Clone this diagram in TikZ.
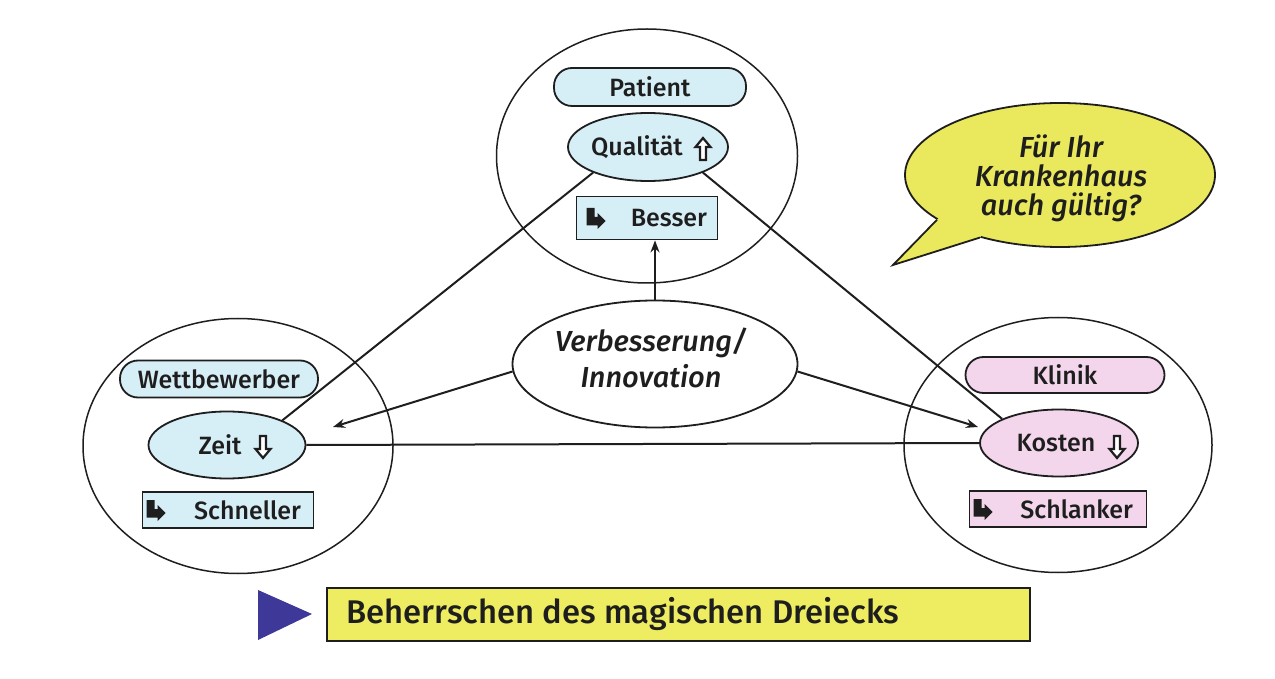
\documentclass[tikz,border=0pt]{standalone}
\usepackage{fontspec}
\IfFontExistsTF{Fira Sans Medium}{%
  \setmainfont{Fira Sans Medium}[ItalicFont={Fira Sans Medium Italic}]%
}{\setmainfont{Fira Sans}}
\usetikzlibrary{shapes.geometric,arrows.meta}
\definecolor{lblue}{RGB}{214,238,246}
\definecolor{lpink}{RGB}{243,214,236}
\definecolor{byellow}{RGB}{234,232,92}
\definecolor{boxyellow}{RGB}{238,236,96}
\definecolor{trib}{RGB}{62,56,152}
\definecolor{inkc}{RGB}{30,30,30}
\tikzset{
  ink/.style={draw=inkc},
  ringshape/.style 2 args={ellipse, ink, line width=0.75pt, minimum width=#1, minimum height=#2, inner sep=0pt},
  ovalshape/.style 2 args={ellipse, ink, line width=0.9pt, minimum width=#1, minimum height=#2, inner sep=0pt},
  pill/.style 2 args={rectangle, rounded corners=9pt, ink, line width=0.9pt, minimum width=#1, minimum height=#2, inner sep=0pt},
  sq/.style 2 args={rectangle, ink, line width=0.9pt, minimum width=#1, minimum height=#2, inner sep=0pt},
  lbl/.style={font=\fontsize{12.5}{14}\selectfont, text=inkc, inner sep=0pt},
  conn/.style={draw=inkc, line width=1pt},
  arrconn/.style={conn, -{Stealth[length=6pt,width=4.5pt]}},
  bentarr/.pic={\fill[inkc] (0,-10) -- (8,-10) -- (8,-1) -- (11,-1) -- (11,-5) -- (19,3) -- (11,11) -- (11,7.5) -- (0,7.5) -- cycle;},
  uparr/.pic={\draw[inkc, line width=1.1pt, line join=miter, fill=white] (0,-11) -- (7.5,-2) -- (3,-2) -- (3,11) -- (-3,11) -- (-3,-2) -- (-7.5,-2) -- cycle;},
  dnarr/.pic={\draw[inkc, line width=1.1pt, line join=miter, fill=white] (0,11) -- (7.5,2) -- (3,2) -- (3,-11) -- (-3,-11) -- (-3,2) -- (-7.5,2) -- cycle;},
}
\begin{document}
\begin{tikzpicture}[x=0.5pt,y=-0.5pt]
\useasboundingbox (0,0) rectangle (1275,679);
\fill[white] (0,0) rectangle (1275,679);

% big circles
\node[ringshape={150.5pt}{127pt}] (topc) at (647,156) {};
\node[ringshape={155pt}{127.5pt}] (leftc) at (238,446) {};
\node[ringshape={154pt}{127.5pt}] (rightc) at (1058,445) {};

% inner nodes
\node[pill={96pt}{19pt}, fill=lblue] (pat) at (650,87) {};
\node[lbl] at (pat) {Patient};
\node[ovalshape={80pt}{34pt}, fill=lblue] (qual) at (648,147) {};
\node[lbl] at (637,147) {Qualität};
\pic at (703,149) {uparr};
\node[sq={70.5pt}{21.5pt}, fill=lblue] (bes) at (647,218) {};
\node[lbl, anchor=east] at ([xshift=-5.5pt]bes.east) {Besser};
\pic at ([xshift=5.5pt]bes.west) {bentarr};

\node[pill={99pt}{18.5pt}, fill=lblue] (wett) at (219,379) {};
\node[lbl] at (wett) {Wettbewerber};
\node[ovalshape={78.5pt}{33.5pt}, fill=lblue] (zeit) at (227,445) {};
\node[lbl] at (220,445) {Zeit};
\pic at (263,447) {dnarr};
\node[sq={85.5pt}{18pt}, fill=lblue] (schn) at (228,510) {};
\node[lbl, anchor=east] at ([xshift=-6.5pt]schn.east) {Schneller};
\pic at ([xshift=2.5pt]schn.west) {bentarr};

\node[pill={99.5pt}{18pt}, fill=lpink] (klin) at (1065,375) {};
\node[lbl] at (klin) {Klinik};
\node[ovalshape={79pt}{33.5pt}, fill=lpink] (kost) at (1059,443) {};
\node[lbl] at (1056,443) {Kosten};
\pic at (1117,447) {dnarr};
\node[sq={88.5pt}{18pt}, fill=lpink] (schl) at (1058,509) {};
\node[lbl, anchor=east] at ([xshift=-7pt]schl.east) {Schlanker};
\pic at ([xshift=2.5pt]schl.west) {bentarr};

% centre ellipse
\node[ovalshape={142.5pt}{63.5pt}, fill=white] (verb) at (655,364) {};
\node[font=\itshape\fontsize{14.5}{18}\selectfont, text=inkc, align=center, inner sep=0pt] at (651,358) {Verbesserung/\\Innovation};

% connectors
\draw[conn] (qual.205) -- (zeit.24);
\draw[conn] (qual.335) -- (kost.157);
\draw[conn] (zeit.east) -- (kost.west);
\coordinate (tipL) at (333,427);
\coordinate (tipR) at (978,427);
\draw[arrconn] (verb.183) -- (tipL);
\draw[arrconn] (verb.357) -- (tipR);
\draw[arrconn] (verb.north) -- (verb.north |- bes.south);

% speech bubble
\node[ellipse, ink, line width=0.9pt, fill=byellow, minimum width=155pt, minimum height=72pt, inner sep=0pt] (bub) at (1060,175) {};
\coordinate (tail) at (893,265);
\fill[byellow] (bub.200) -- (tail) -- (bub.218) -- ([shift={(6,-8)}]bub.218) -- ([shift={(6,-6)}]bub.200) -- cycle;
\draw[inkc, line width=0.9pt, line join=miter] (bub.200) -- (tail) -- (bub.218);
\node[font=\itshape\fontsize{14.5}{14.5}\selectfont, text=inkc, align=center, inner sep=0pt] at (1061,178) {Für Ihr\\Krankenhaus\\auch gültig?};

% bottom banner
\fill[trib] (258,590) -- (312,614) -- (258,640) -- cycle;
\node[rectangle, ink, line width=1pt, fill=boxyellow, minimum width=351.5pt, minimum height=26.5pt, inner sep=0pt] (bot) at (678.5,614.5) {};
\node[anchor=west, font=\fontsize{16.4}{18}\selectfont, text=inkc, inner sep=0pt] at ([xshift=10pt]bot.west) {Beherrschen des magischen Dreiecks};
\end{tikzpicture}
\end{document}
